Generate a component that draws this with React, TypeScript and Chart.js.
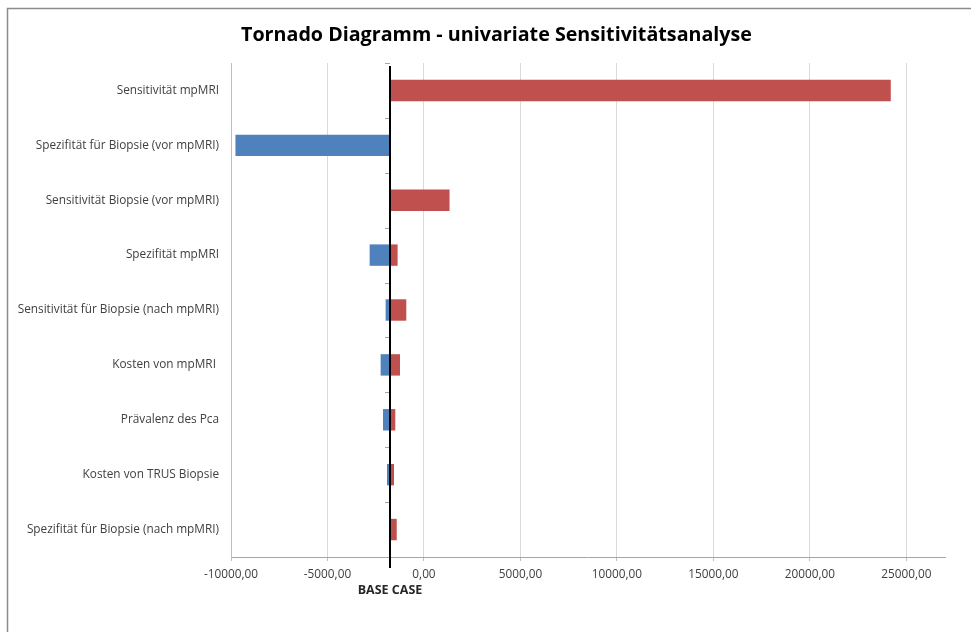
import React, { useEffect, useRef } from "react";
import { Chart, registerables } from "chart.js";

Chart.register(...registerables);

const titleText = "Tornado Diagramm - univariate Sensitivitätsanalyse";
const categories = [
  "Sensitivität mpMRI",
  "Spezifität für Biopsie (vor mpMRI)",
  "Sensitivität Biopsie (vor mpMRI)",
  "Spezifität mpMRI",
  "Sensitivität für Biopsie (nach mpMRI)",
  "Kosten von mpMRI ",
  "Prävalenz des Pca",
  "Kosten von TRUS Biopsie",
  "Spezifität für Biopsie (nach mpMRI)",
];
const baseCase = -1745;
const lowValues = [-1745, -9770, -1745, -2816, -1988, -2246, -2122, -1915, -1745];
const highValues = [24190, -1745, 1325, -1367, -916, -1242, -1486, -1553, -1412];
const xMin = -10000;
const xMax = 27000;
const xTicks = [-10000, -5000, 0, 5000, 10000, 15000, 20000, 25000];
const baseLabel = "BASE CASE";

const FONT = "'Open Sans', sans-serif";

const overlayPlugin = {
  id: "overlay",
  beforeDraw(chart: any) {
    const ctx = chart.ctx;
    ctx.save();
    ctx.strokeStyle = "#8c8c8c";
    ctx.lineWidth = 1.5;
    ctx.beginPath();
    ctx.moveTo(7.5, chart.height + 5);
    ctx.lineTo(7.5, 8.5);
    ctx.lineTo(chart.width + 5, 8.5);
    ctx.stroke();
    ctx.fillStyle = "#000000";
    ctx.font = "bold 19.7px " + FONT;
    ctx.textAlign = "center";
    ctx.textBaseline = "middle";
    ctx.fillText(titleText, 496.5, 35);
    ctx.restore();
  },
  afterDatasetsDraw(chart: any) {
    const ctx = chart.ctx;
    const xs = chart.scales.x;
    const area = chart.chartArea;
    const bx = Math.round(xs.getPixelForValue(baseCase));
    ctx.save();
    ctx.strokeStyle = "#a6a6a6";
    ctx.lineWidth = 1;
    const n = categories.length;
    const step = (area.bottom - area.top) / n;
    for (let k = 0; k < n; k++) {
      const y = Math.round(area.top + k * step) + 0.5;
      ctx.beginPath();
      ctx.moveTo(bx - 5, y);
      ctx.lineTo(bx, y);
      ctx.stroke();
    }
    ctx.strokeStyle = "#000000";
    ctx.lineWidth = 2;
    ctx.beginPath();
    ctx.moveTo(bx, area.top + 3);
    ctx.lineTo(bx, area.bottom + 11);
    ctx.stroke();
    ctx.fillStyle = "#262626";
    ctx.font = "bold 12.5px " + FONT;
    ctx.textAlign = "center";
    ctx.textBaseline = "middle";
    ctx.fillText(baseLabel, bx, 590);
    ctx.restore();
  },
};

export default function App() {
  const ref = useRef<HTMLCanvasElement | null>(null);
  useEffect(() => {
    if (!ref.current) return;
    const chart = new Chart(ref.current, {
      type: "bar",
      data: {
        labels: categories,
        datasets: [
          {
            label: "Low",
            data: lowValues.map((v) => [v, baseCase]) as any,
            backgroundColor: "#4F81BD",
            borderWidth: 0,
            grouped: false,
            barPercentage: 0.39,
            categoryPercentage: 1,
          } as any,
          {
            label: "High",
            data: highValues.map((v) => [baseCase, v]) as any,
            backgroundColor: "#C0504D",
            borderWidth: 0,
            grouped: false,
            barPercentage: 0.39,
            categoryPercentage: 1,
          } as any,
        ],
      },
      options: {
        indexAxis: "y",
        animation: false,
        responsive: false,
        layout: { padding: { left: 8, right: 26, top: 63, bottom: 0 } },
        plugins: {
          legend: { display: false },
          tooltip: { enabled: false },
          title: { display: false },
        },
        scales: {
          x: {
            type: "linear",
            min: xMin,
            max: xMax,
            afterBuildTicks: (scale: any) => {
              scale.ticks = xTicks.map((v) => ({ value: v }));
            },
            afterFit: (scale: any) => {
              scale.height = 75;
            },
            ticks: {
              padding: 7,
              maxRotation: 0,
              autoSkip: false,
              color: "#404040",
              font: { family: FONT, size: 11.8 },
              callback: (v: any) => Number(v).toFixed(2).replace(".", ","),
            },
            grid: {
              color: "#d9d9d9",
              lineWidth: 1,
              drawTicks: true,
              tickLength: 4,
              tickColor: "#bfbfbf",
            },
            border: { display: true, color: "#a6a6a6", width: 1 },
          },
          y: {
            type: "category",
            afterFit: (scale: any) => {
              scale.width = 223;
            },
            ticks: {
              padding: 12,
              color: "#404040",
              font: { family: FONT, size: 11.8 },
            },
            grid: { display: false, drawTicks: false },
            border: { display: true, color: "#bfbfbf", width: 1 },
          },
        },
      },
      plugins: [overlayPlugin],
    });
    return () => chart.destroy();
  }, []);
  return (
    <div style={{ position: "fixed", left: 0, top: 0, width: 971, height: 632, background: "#ffffff" }}>
      <canvas ref={ref} width={971} height={632} style={{ display: "block" }} />
    </div>
  );
}
